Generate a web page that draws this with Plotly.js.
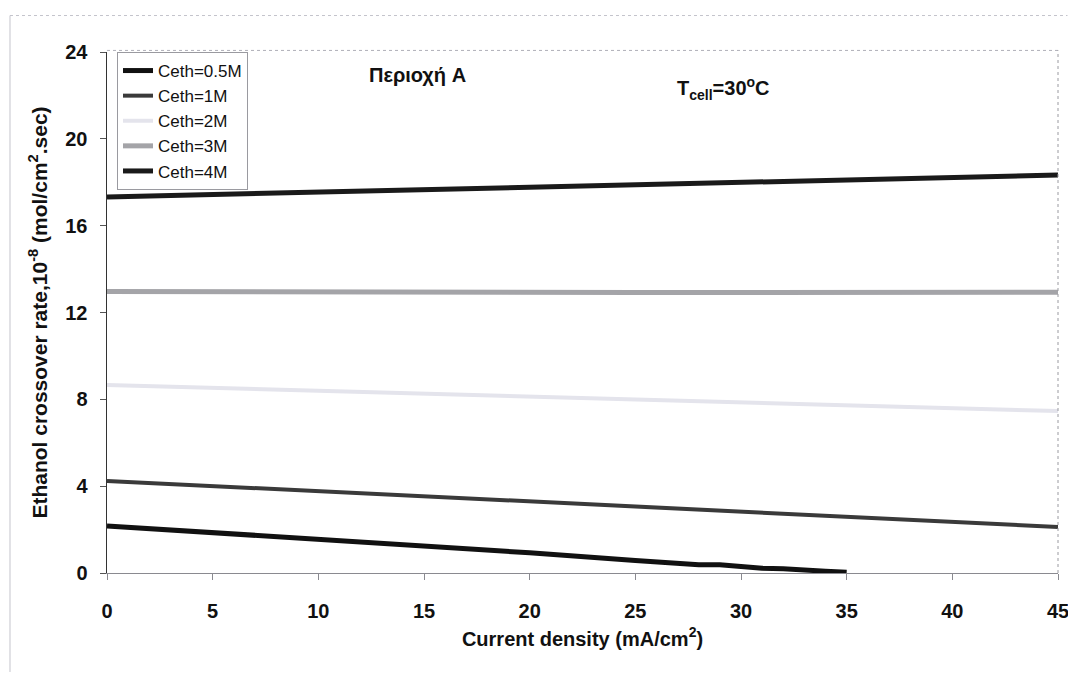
<!DOCTYPE html>
<html>
<head>
<meta charset="utf-8">
<script src="https://cdn.plot.ly/plotly-3.0.1.min.js"></script>
<style>
html,body{margin:0;padding:0;background:#fff;}
#chart{width:1068px;height:673px;}
</style>
</head>
<body>
<div id="chart"></div>
<script>
// Data
const seriesNames = ["Ceth=0.5M", "Ceth=1M", "Ceth=2M", "Ceth=3M", "Ceth=4M"];

const x05 = [0, 5, 10, 15, 20, 25, 27, 28, 29, 30, 31, 32, 33, 34, 35];
const y05 = [2.17, 1.87, 1.55, 1.25, 0.93, 0.58, 0.45, 0.38, 0.38, 0.3, 0.22, 0.2, 0.12, 0.08, 0.03];

const x1 = [0, 5, 10, 15, 20, 25, 30, 35, 40, 45];
const y1 = [4.24, 4.0, 3.77, 3.53, 3.3, 3.06, 2.83, 2.6, 2.36, 2.12];

const x2 = [0, 5, 10, 15, 20, 25, 30, 35, 40, 45];
const y2 = [8.66, 8.53, 8.4, 8.26, 8.13, 8.0, 7.86, 7.73, 7.6, 7.46];

const x3 = [0, 5, 10, 15, 20, 25, 30, 35, 40, 45];
const y3 = [12.97, 12.95, 12.94, 12.93, 12.93, 12.92, 12.92, 12.92, 12.92, 12.93];

const x4 = [0, 5, 10, 15, 20, 25, 30, 35, 40, 45];
const y4 = [17.32, 17.43, 17.54, 17.66, 17.77, 17.88, 17.99, 18.1, 18.22, 18.33];

const xTicks = [0, 5, 10, 15, 20, 25, 30, 35, 40, 45];
const yTicks = [0, 4, 8, 12, 16, 20, 24];

const FONT = "Liberation Sans, Arial, sans-serif";

const traces = [
  {x: x05, y: y05, name: seriesNames[0], mode: "lines", line: {color: "#111111", width: 5}},
  {x: x1, y: y1, name: seriesNames[1], mode: "lines", line: {color: "#3a3a3a", width: 4}},
  {x: x2, y: y2, name: seriesNames[2], mode: "lines", line: {color: "#e4e4ec", width: 4}},
  {x: x3, y: y3, name: seriesNames[3], mode: "lines", line: {color: "#a4a4a8", width: 5}},
  {x: x4, y: y4, name: seriesNames[4], mode: "lines", line: {color: "#1a1a1a", width: 5}}
];

const layout = {
  width: 1068, height: 673,
  paper_bgcolor: "#ffffff", plot_bgcolor: "#ffffff",
  margin: {l: 107, r: 10, t: 52, b: 100},
  font: {family: FONT, color: "#111"},
  showlegend: true,
  legend: {
    x: 0.0105, y: 1.0, xanchor: "left", yanchor: "top",
    bgcolor: "#ffffff", bordercolor: "#9a9aa0", borderwidth: 1,
    font: {family: FONT, size: 17, color: "#111"},
    tracegroupgap: 0, itemwidth: 30
  },
  xaxis: {
    range: [0, 45], tickvals: xTicks, ticktext: xTicks.map(String),
    showgrid: false, zeroline: false,
    showline: true, linecolor: "#8a8a90", linewidth: 1,
    ticks: "outside", ticklen: 6, tickcolor: "#8a8a90",
    ticklabelstandoff: 14, ticklabeloverflow: "allow",
    tickfont: {family: FONT, size: 20, color: "#111", weight: "bold"},
    title: {text: "<b>Current density (mA/cm<sup>2</sup>)</b>", font: {family: FONT, size: 20, color: "#111"}, standoff: 10},
    mirror: false
  },
  yaxis: {
    range: [0, 24], tickvals: yTicks, ticktext: yTicks.map(String),
    showgrid: false, zeroline: false,
    showline: true, linecolor: "#333", linewidth: 1.5,
    ticks: "outside", ticklen: 6, tickcolor: "#555",
    ticklabelstandoff: 8,
    tickfont: {family: FONT, size: 20, color: "#111", weight: "bold"},
    title: {text: "<b>Ethanol crossover rate,10<sup>-8</sup> (mol/cm<sup>2</sup>.sec)</b>", font: {family: FONT, size: 21, color: "#111"}, standoff: 12}
  },
  shapes: [
    {type: "line", xref: "paper", yref: "paper", x0: 0, x1: 1.0, y0: 1.003, y1: 1.003, line: {color: "#b0b0b8", width: 1, dash: "dot"}},
    {type: "line", xref: "paper", yref: "paper", x0: 1.0, x1: 1.0, y0: 0, y1: 1.003, line: {color: "#9a9aa0", width: 1, dash: "dot"}},
    {type: "line", xref: "paper", yref: "paper", x0: -0.102, x1: 1.01, y0: 1.07, y1: 1.07, line: {color: "#c4c4cc", width: 1, dash: "dot"}},
    {type: "line", xref: "paper", yref: "paper", x0: -0.102, x1: -0.102, y0: 1.07, y1: -0.19, line: {color: "#c4c4cc", width: 1}}
  ],
  annotations: [
    {xref: "paper", yref: "paper", x: 0.327, y: 0.955, xanchor: "center", yanchor: "middle", showarrow: false,
     text: "<b>Περιοχή A</b>", font: {family: FONT, size: 20, color: "#111"}},
    {xref: "paper", yref: "paper", x: 0.648, y: 0.93, xanchor: "center", yanchor: "middle", showarrow: false,
     text: "<b>T<sub>cell</sub>=30<sup>o</sup>C</b>", font: {family: FONT, size: 20, color: "#111"}}
  ]
};

Plotly.newPlot("chart", traces, layout, {displayModeBar: false, staticPlot: true});
</script>
</body>
</html>
